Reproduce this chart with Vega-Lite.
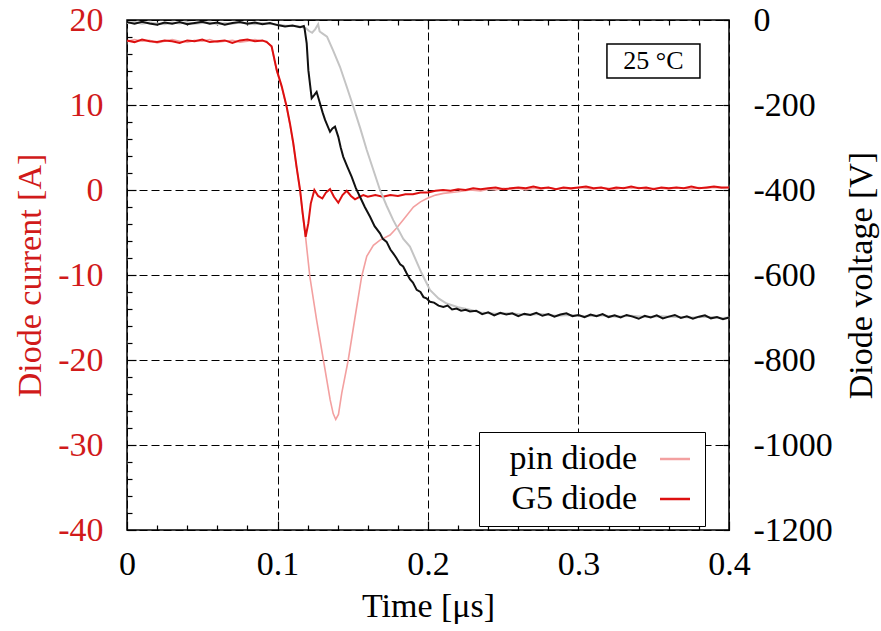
{
"$schema": "https://vega.github.io/schema/vega-lite/v6.json",
"width": 602, "height": 510,
"autosize": {"type": "none"},
"padding": {"left": 127, "top": 20, "right": 152, "bottom": 101},
"config": {
  "view": {"stroke": "black", "strokeWidth": 1.5},
  "font": "Liberation Serif",
  "axis": {"labelFont": "Liberation Serif", "titleFont": "Liberation Serif", "labelFontSize": 34, "titleFontSize": 34, "titleFontWeight": "normal", "labelColor": "black", "titleColor": "black", "tickColor": "black", "gridColor": "black", "gridDash": [8, 4], "gridWidth": 1, "domain": false, "tickWidth": 1.2, "labelFlush": false}
},
"datasets": {
  "pinI": [
    {"t":0.000,"v":17.5},{"t":0.005,"v":17.7},{"t":0.010,"v":17.5},{"t":0.015,"v":17.6},{"t":0.020,"v":17.3},{"t":0.025,"v":17.5},{"t":0.030,"v":17.7},{"t":0.035,"v":17.5},{"t":0.040,"v":17.4},{"t":0.045,"v":17.6},{"t":0.050,"v":17.5},{"t":0.055,"v":17.7},{"t":0.060,"v":17.4},{"t":0.065,"v":17.5},{"t":0.070,"v":17.6},{"t":0.075,"v":17.4},{"t":0.080,"v":17.5},{"t":0.085,"v":17.7},{"t":0.090,"v":17.5},{"t":0.0928,"v":17.5},
    {"t":0.0961,"v":16.8},{"t":0.0995,"v":14.0},{"t":0.1028,"v":12.1},{"t":0.1061,"v":9.7},{"t":0.1083,"v":7.7},{"t":0.1105,"v":5.4},{"t":0.1127,"v":2.6},{"t":0.1150,"v":-0.1},{"t":0.1167,"v":-2.8},{"t":0.1187,"v":-5.6},
    {"t":0.1215,"v":-10.2},{"t":0.1260,"v":-15.3},{"t":0.1305,"v":-20.0},{"t":0.1350,"v":-24.7},{"t":0.1370,"v":-26.3},{"t":0.1387,"v":-27.0},{"t":0.1405,"v":-26.4},{"t":0.1427,"v":-23.9},{"t":0.1470,"v":-20.0},{"t":0.1515,"v":-15.0},{"t":0.1559,"v":-10.2},{"t":0.1593,"v":-7.8},{"t":0.1637,"v":-6.5},{"t":0.1681,"v":-5.9},{"t":0.1748,"v":-5.3},{"t":0.1790,"v":-4.5},{"t":0.1836,"v":-3.5},{"t":0.1903,"v":-2.0},{"t":0.1950,"v":-1.4},{"t":0.1992,"v":-1.0},{"t":0.2050,"v":-0.6},{"t":0.2102,"v":-0.4},{"t":0.220,"v":-0.2},{"t":0.228,"v":0.0},
    {"t":0.235,"v":-0.1},{"t":0.240,"v":0.1},{"t":0.245,"v":0.0},{"t":0.250,"v":0.2},{"t":0.255,"v":0.1},{"t":0.260,"v":0.2},{"t":0.265,"v":0.0},{"t":0.270,"v":0.2},{"t":0.275,"v":0.1},{"t":0.280,"v":0.3},{"t":0.285,"v":0.1},{"t":0.290,"v":0.2},{"t":0.295,"v":0.1},{"t":0.300,"v":0.3},{"t":0.305,"v":0.2},{"t":0.310,"v":0.1},{"t":0.315,"v":0.3},{"t":0.320,"v":0.2},{"t":0.325,"v":0.1},{"t":0.330,"v":0.3},{"t":0.335,"v":0.2},{"t":0.340,"v":0.3},{"t":0.345,"v":0.1},{"t":0.350,"v":0.2},{"t":0.355,"v":0.2},{"t":0.360,"v":0.1},{"t":0.365,"v":0.3},{"t":0.370,"v":0.2},{"t":0.375,"v":0.1},{"t":0.380,"v":0.3},{"t":0.385,"v":0.2},{"t":0.390,"v":0.3},{"t":0.395,"v":0.2},{"t":0.400,"v":0.3}
  ],
  "g5I": [
    {"t":0.000,"v":17.6},{"t":0.005,"v":17.4},{"t":0.010,"v":17.7},{"t":0.015,"v":17.5},{"t":0.020,"v":17.4},{"t":0.025,"v":17.6},{"t":0.030,"v":17.5},{"t":0.035,"v":17.3},{"t":0.040,"v":17.6},{"t":0.045,"v":17.5},{"t":0.050,"v":17.7},{"t":0.055,"v":17.4},{"t":0.060,"v":17.5},{"t":0.065,"v":17.6},{"t":0.070,"v":17.3},{"t":0.075,"v":17.6},{"t":0.080,"v":17.7},{"t":0.085,"v":17.5},{"t":0.090,"v":17.6},{"t":0.0928,"v":17.4},
    {"t":0.0961,"v":16.9},{"t":0.0995,"v":14.1},{"t":0.1028,"v":12.2},{"t":0.1061,"v":9.8},{"t":0.1083,"v":7.8},{"t":0.1105,"v":5.5},{"t":0.1127,"v":2.7},{"t":0.1150,"v":0.0},{"t":0.1167,"v":-2.7},{"t":0.1187,"v":-5.5},{"t":0.1205,"v":-3.9},{"t":0.1221,"v":-1.6},{"t":0.1245,"v":0.0},{"t":0.1270,"v":-0.7},{"t":0.1298,"v":-1.0},{"t":0.1322,"v":-0.3},{"t":0.1349,"v":0.1},{"t":0.1375,"v":-0.8},{"t":0.1404,"v":-1.5},{"t":0.1432,"v":-0.6},{"t":0.1460,"v":-0.1},{"t":0.1488,"v":-0.7},{"t":0.1515,"v":-1.1},{"t":0.1545,"v":-0.8},{"t":0.1570,"v":-0.6},
    {"t":0.160,"v":-0.8},{"t":0.165,"v":-0.6},{"t":0.170,"v":-0.8},{"t":0.175,"v":-0.6},{"t":0.180,"v":-0.7},{"t":0.185,"v":-0.5},{"t":0.190,"v":-0.5},{"t":0.195,"v":-0.3},{"t":0.200,"v":-0.3},{"t":0.205,"v":-0.1},{"t":0.210,"v":0.0},{"t":0.215,"v":-0.1},{"t":0.220,"v":0.1},{"t":0.225,"v":0.0},{"t":0.230,"v":0.2},
    {"t":0.235,"v":0.1},{"t":0.240,"v":0.2},{"t":0.245,"v":0.3},{"t":0.250,"v":0.1},{"t":0.255,"v":0.2},{"t":0.260,"v":0.3},{"t":0.265,"v":0.2},{"t":0.270,"v":0.4},{"t":0.275,"v":0.2},{"t":0.280,"v":0.3},{"t":0.285,"v":0.1},{"t":0.290,"v":0.3},{"t":0.295,"v":0.2},{"t":0.300,"v":0.3},{"t":0.305,"v":0.4},{"t":0.310,"v":0.2},{"t":0.315,"v":0.3},{"t":0.320,"v":0.1},{"t":0.325,"v":0.3},{"t":0.330,"v":0.2},{"t":0.335,"v":0.4},{"t":0.340,"v":0.2},{"t":0.345,"v":0.3},{"t":0.350,"v":0.1},{"t":0.355,"v":0.3},{"t":0.360,"v":0.2},{"t":0.365,"v":0.3},{"t":0.370,"v":0.2},{"t":0.375,"v":0.4},{"t":0.380,"v":0.2},{"t":0.385,"v":0.3},{"t":0.390,"v":0.4},{"t":0.395,"v":0.3},{"t":0.400,"v":0.3}
  ],
  "pinV": [
    {"t":0.000,"v":-7},{"t":0.005,"v":-5},{"t":0.010,"v":-9},{"t":0.015,"v":-6},{"t":0.020,"v":-8},{"t":0.025,"v":-10},{"t":0.030,"v":-6},{"t":0.035,"v":-8},{"t":0.040,"v":-5},{"t":0.045,"v":-9},{"t":0.050,"v":-7},{"t":0.055,"v":-6},{"t":0.060,"v":-10},{"t":0.065,"v":-7},{"t":0.070,"v":-9},{"t":0.075,"v":-6},{"t":0.080,"v":-8},{"t":0.085,"v":-10},{"t":0.090,"v":-7},{"t":0.095,"v":-9},{"t":0.100,"v":-11},{"t":0.105,"v":-13},{"t":0.110,"v":-14},{"t":0.115,"v":-15},
    {"t":0.119,"v":-20},{"t":0.121,"v":-26},{"t":0.123,"v":-30},{"t":0.125,"v":-22},{"t":0.127,"v":-10},{"t":0.128,"v":-27},{"t":0.130,"v":-32},{"t":0.1329,"v":-39},{"t":0.137,"v":-72},{"t":0.1415,"v":-110},{"t":0.146,"v":-157},{"t":0.1504,"v":-204},{"t":0.155,"v":-255},{"t":0.1593,"v":-306},{"t":0.1637,"v":-353},{"t":0.1681,"v":-400},{"t":0.1725,"v":-437},{"t":0.1769,"v":-471},{"t":0.1836,"v":-515},{"t":0.188,"v":-533},{"t":0.1958,"v":-596},{"t":0.2013,"v":-635},{"t":0.2070,"v":-655},{"t":0.2124,"v":-667},{"t":0.2200,"v":-676},{"t":0.2279,"v":-682},
    {"t":0.235,"v":-688},{"t":0.245,"v":-691},{"t":0.255,"v":-690},{"t":0.265,"v":-694},{"t":0.275,"v":-692},{"t":0.285,"v":-696},{"t":0.295,"v":-694},{"t":0.305,"v":-697},{"t":0.315,"v":-695},{"t":0.325,"v":-698},{"t":0.335,"v":-696},{"t":0.345,"v":-699},{"t":0.355,"v":-697},{"t":0.365,"v":-699},{"t":0.375,"v":-700},{"t":0.385,"v":-698},{"t":0.395,"v":-701},{"t":0.400,"v":-700}
  ],
  "g5V": [
    {"t":0.000,"v":-5},{"t":0.005,"v":-9},{"t":0.010,"v":-4},{"t":0.015,"v":-8},{"t":0.020,"v":-11},{"t":0.025,"v":-6},{"t":0.030,"v":-9},{"t":0.035,"v":-5},{"t":0.040,"v":-10},{"t":0.045,"v":-7},{"t":0.050,"v":-4},{"t":0.055,"v":-9},{"t":0.060,"v":-6},{"t":0.065,"v":-11},{"t":0.070,"v":-7},{"t":0.075,"v":-5},{"t":0.080,"v":-9},{"t":0.085,"v":-6},{"t":0.090,"v":-10},{"t":0.095,"v":-7},{"t":0.100,"v":-12},{"t":0.105,"v":-15},{"t":0.110,"v":-13},{"t":0.115,"v":-17},{"t":0.1175,"v":-14},{"t":0.1180,"v":-20},
    {"t":0.1194,"v":-55},{"t":0.1205,"v":-118},{"t":0.1227,"v":-184},{"t":0.1245,"v":-176},{"t":0.1260,"v":-169},{"t":0.1282,"v":-196},{"t":0.1300,"v":-218},{"t":0.1316,"v":-235},{"t":0.1349,"v":-263},{"t":0.1365,"v":-255},{"t":0.1382,"v":-251},{"t":0.1404,"v":-275},{"t":0.1420,"v":-300},{"t":0.1437,"v":-322},{"t":0.1465,"v":-346},{"t":0.1493,"v":-369},{"t":0.1520,"v":-395},{"t":0.1548,"v":-416},{"t":0.1580,"v":-440},{"t":0.1615,"v":-463},{"t":0.1645,"v":-485},{"t":0.1681,"v":-502},{"t":0.1700,"v":-515},{"t":0.1725,"v":-522},{"t":0.1750,"v":-540},{"t":0.1769,"v":-549},{"t":0.1790,"v":-560},{"t":0.1815,"v":-575},{"t":0.1835,"v":-580},{"t":0.1858,"v":-596},{"t":0.1880,"v":-610},{"t":0.1900,"v":-618},{"t":0.1925,"v":-635},{"t":0.1950,"v":-640},{"t":0.1970,"v":-652},{"t":0.1990,"v":-655},{"t":0.2013,"v":-663},{"t":0.2040,"v":-665},{"t":0.2070,"v":-672},{"t":0.2102,"v":-675},{"t":0.2130,"v":-672},{"t":0.2160,"v":-681},{"t":0.2190,"v":-679},{"t":0.2220,"v":-684},{"t":0.2250,"v":-682},{"t":0.2279,"v":-686},
    {"t":0.232,"v":-684},{"t":0.236,"v":-692},{"t":0.240,"v":-688},{"t":0.244,"v":-695},{"t":0.248,"v":-689},{"t":0.252,"v":-693},{"t":0.256,"v":-690},{"t":0.260,"v":-697},{"t":0.264,"v":-691},{"t":0.268,"v":-694},{"t":0.272,"v":-689},{"t":0.276,"v":-696},{"t":0.280,"v":-692},{"t":0.284,"v":-698},{"t":0.288,"v":-693},{"t":0.292,"v":-690},{"t":0.296,"v":-697},{"t":0.300,"v":-694},{"t":0.304,"v":-699},{"t":0.308,"v":-693},{"t":0.312,"v":-697},{"t":0.316,"v":-692},{"t":0.320,"v":-699},{"t":0.324,"v":-695},{"t":0.328,"v":-700},{"t":0.332,"v":-694},{"t":0.336,"v":-698},{"t":0.340,"v":-703},{"t":0.344,"v":-696},{"t":0.348,"v":-700},{"t":0.352,"v":-695},{"t":0.356,"v":-702},{"t":0.360,"v":-698},{"t":0.364,"v":-694},{"t":0.368,"v":-701},{"t":0.372,"v":-697},{"t":0.376,"v":-703},{"t":0.380,"v":-698},{"t":0.384,"v":-695},{"t":0.388,"v":-702},{"t":0.392,"v":-699},{"t":0.396,"v":-704},{"t":0.400,"v":-700}
  ]
},
"layer": [
  {"data": {"name": "pinI"}, "mark": {"type": "line", "strokeWidth": 1.6},
   "encoding": {
     "x": {"field": "t", "type": "quantitative", "scale": {"domain": [0, 0.4], "nice": false},
       "axis": {"orient": "bottom", "title": "Time [μs]", "titlePadding": 8, "values": [0, 0.1, 0.2, 0.3, 0.4], "labelExpr": "'' + datum.value", "labelPadding": 26, "tickSize": -9, "grid": true}},
     "y": {"field": "v", "type": "quantitative", "scale": {"domain": [-40, 20], "nice": false},
       "axis": {"orient": "left", "title": "Diode current [A]", "titleColor": "#d11a1a", "labelColor": "#d11a1a", "titlePadding": 10, "values": [-40, -30, -20, -10, 0, 10, 20], "labelExpr": "'' + datum.value", "labelPadding": 33, "tickSize": -9, "grid": true}},
     "color": {"datum": "pin diode", "type": "nominal",
       "scale": {"domain": ["pin diode", "G5 diode"], "range": ["#f3a0a0", "#dd1010"]},
       "legend": {"title": null, "orient": "none", "legendX": 352, "legendY": 412, "fillColor": "white", "strokeColor": "black", "padding": 10,
         "labelFont": "Liberation Serif", "labelFontSize": 34, "labelColor": "black", "labelAlign": "right", "labelOffset": -55, "labelLimit": 400,
         "symbolType": "stroke", "symbolSize": 900, "symbolStrokeWidth": 2.5, "symbolOffset": 169, "rowPadding": 6}}}},
  {"data": {"name": "g5I"}, "mark": {"type": "line", "strokeWidth": 2},
   "encoding": {
     "x": {"field": "t", "type": "quantitative", "scale": {"domain": [0, 0.4], "nice": false},
       "axis": {"orient": "bottom", "title": null, "labels": false, "grid": false, "tickSize": -5,
         "values": [0.02,0.04,0.06,0.08,0.12,0.14,0.16,0.18,0.22,0.24,0.26,0.28,0.32,0.34,0.36,0.38]}},
     "y": {"field": "v", "type": "quantitative", "scale": {"domain": [-40, 20], "nice": false},
       "axis": {"orient": "left", "title": null, "labels": false, "grid": false, "tickSize": -5,
         "values": [-38,-36,-34,-32,-28,-26,-24,-22,-18,-16,-14,-12,-8,-6,-4,-2,2,4,6,8,12,14,16,18]}},
     "color": {"datum": "G5 diode", "type": "nominal"}}},
  {"data": {"values": [{}]}, "mark": {"type": "rect", "fill": "white", "stroke": "black", "strokeWidth": 1.5},
   "encoding": {
     "x": {"datum": 0.3189, "type": "quantitative", "scale": {"domain": [0, 0.4], "nice": false},
       "axis": {"orient": "top", "title": null, "labels": false, "grid": false, "tickSize": -9, "values": [0.1, 0.2, 0.3]}},
     "x2": {"datum": 0.3807},
     "y": {"datum": 17.18, "type": "quantitative", "scale": {"domain": [-40, 20], "nice": false}, "axis": null},
     "y2": {"datum": 13.18}}},
  {"data": {"values": [{}]}, "mark": {"type": "text", "text": "25 °C", "fontSize": 26, "font": "Liberation Serif", "color": "black"},
   "encoding": {
     "x": {"datum": 0.3498, "type": "quantitative", "scale": {"domain": [0, 0.4], "nice": false},
       "axis": {"orient": "top", "title": null, "labels": false, "grid": false, "tickSize": -5,
         "values": [0.02,0.04,0.06,0.08,0.12,0.14,0.16,0.18,0.22,0.24,0.26,0.28,0.32,0.34,0.36,0.38]}},
     "y": {"datum": 15.2, "type": "quantitative", "scale": {"domain": [-40, 20], "nice": false}, "axis": null}}},
  {"data": {"name": "pinV"}, "mark": {"type": "line", "strokeWidth": 2, "color": "#c4c4c4"},
   "encoding": {
     "x": {"field": "t", "type": "quantitative", "scale": {"domain": [0, 0.4], "nice": false}, "axis": null},
     "y": {"field": "v", "type": "quantitative", "scale": {"domain": [-1200, 0], "nice": false},
       "axis": {"orient": "right", "title": "Diode voltage [V]", "titleAngle": 270, "titlePadding": 46, "grid": false,
         "values": [-1200,-1000,-800,-600,-400,-200,0], "labelExpr": "'' + datum.value", "labelPadding": 30, "tickSize": -6}}}},
  {"data": {"name": "g5V"}, "mark": {"type": "line", "strokeWidth": 2, "color": "#111111"},
   "encoding": {
     "x": {"field": "t", "type": "quantitative", "scale": {"domain": [0, 0.4], "nice": false}, "axis": null},
     "y": {"field": "v", "type": "quantitative", "scale": {"domain": [-1200, 0], "nice": false}, "axis": null}}}
],
"resolve": {"scale": {"y": "independent"}, "axis": {"x": "independent", "y": "independent"}}
}
